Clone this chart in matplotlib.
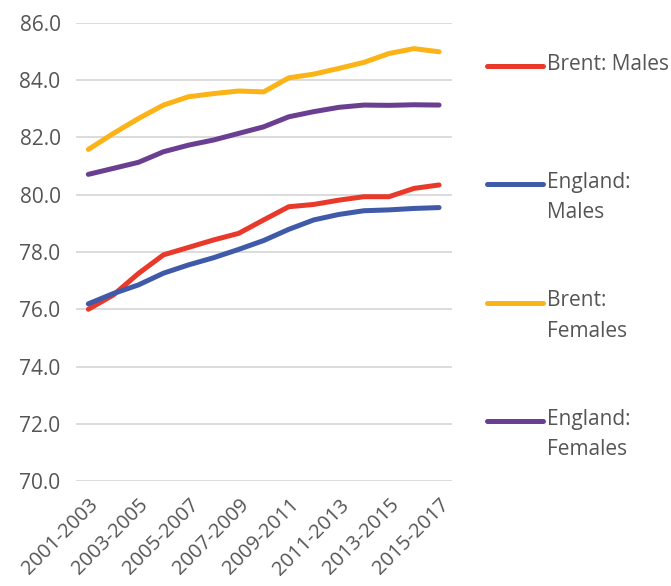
import matplotlib.pyplot as plt
from matplotlib.lines import Line2D

plt.rcParams['font.family'] = ['Open Sans', 'DejaVu Sans']

# data
periods = ["2001-2003", "2002-2004", "2003-2005", "2004-2006", "2005-2007",
           "2006-2008", "2007-2009", "2008-2010", "2009-2011", "2010-2012",
           "2011-2013", "2012-2014", "2013-2015", "2014-2016", "2015-2017"]
brent_males = [76.0, 76.5, 77.25, 77.9, 78.16, 78.42, 78.65, 79.12, 79.58,
               79.66, 79.81, 79.93, 79.93, 80.22, 80.34]
england_males = [76.19, 76.55, 76.85, 77.26, 77.55, 77.8, 78.09, 78.4, 78.79,
                 79.12, 79.31, 79.44, 79.47, 79.52, 79.55]
brent_females = [81.58, 82.14, 82.66, 83.13, 83.42, 83.53, 83.62, 83.59, 84.08,
                 84.21, 84.41, 84.62, 84.93, 85.1, 84.99]
england_females = [80.71, 80.92, 81.13, 81.5, 81.73, 81.91, 82.14, 82.37, 82.72,
                   82.9, 83.05, 83.13, 83.12, 83.14, 83.13]

series = [
    ("Brent: Males", brent_males, "#E8392A"),
    ("England:\nMales", england_males, "#3F5AA8"),
    ("Brent:\nFemales", brent_females, "#FBB316"),
    ("England:\nFemales", england_females, "#6A3E91"),
]

text_color = "#555555"
fs = 15

fig = plt.figure(figsize=(6.71, 5.86), dpi=100)
ax = fig.add_axes([0.113, 0.179, 0.56, 0.782])

x = list(range(len(periods)))
for name, vals, col in series:
    ax.plot(x, vals, color=col, lw=3.6, solid_capstyle="round", solid_joinstyle="round")

ax.set_ylim(70, 86)
ax.set_yticks(range(70, 87, 2))
ax.set_yticklabels([f"{v:.1f}" for v in range(70, 87, 2)])
ax.set_xlim(-0.5, len(periods) - 0.5)
ax.set_xticks(x[::2])
ax.set_xticklabels(periods[::2], rotation=45, ha="right", rotation_mode="anchor")

ax.grid(axis="y", color="#D9D9D9", lw=1.3)
ax.set_axisbelow(True)
for s in ax.spines.values():
    s.set_visible(False)
ax.tick_params(length=0, labelsize=fs, colors=text_color)
ax.tick_params(axis="y", pad=11)
ax.tick_params(axis="x", pad=10, labelsize=14.5)

# legend on the right
W, H = 671, 586
leg_y = [66, 184, 302.5, 421]
for (name, vals, col), yy in zip(series, leg_y):
    fig.add_artist(Line2D([487 / W, 543 / W], [1 - yy / H, 1 - yy / H], color=col,
                          lw=3.6, solid_capstyle="round", transform=fig.transFigure))
    fig.text(547 / W, 1 - (yy - 12.5) / H, name, color=text_color, fontsize=fs,
             va="top", ha="left", linespacing=1.62)

fig.savefig("out.png", dpi=100)
